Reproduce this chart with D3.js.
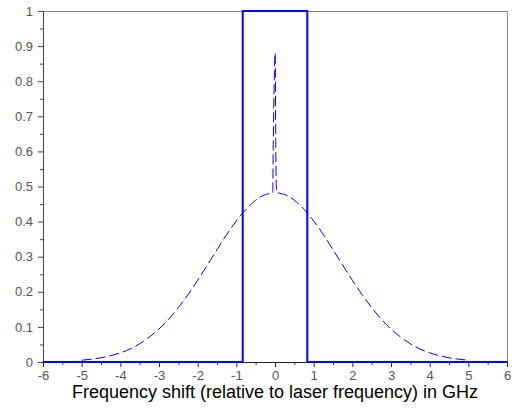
<!DOCTYPE html>
<html lang="en">
<head>
<meta charset="utf-8" />
<title>Frequency shift</title>
<script src="https://d3js.org/d3.v7.min.js"></script>
<style>
    body { margin: 0; background: #fff; }
    .tick text { font-family: "Liberation Sans", Arial, sans-serif; font-size: 13px; fill: #555; }
    .title { font-family: "Liberation Sans", Arial, sans-serif; font-size: 18px; fill: #000; }
</style>
</head>
<body>
<div id="chart"></div>
<script>
    // tick values
    var xTicks = [-6, -5, -4, -3, -2, -1, 0, 1, 2, 3, 4, 5, 6];
    var yTicks = [0, 0.1, 0.2, 0.3, 0.4, 0.5, 0.6, 0.7, 0.8, 0.9, 1];
    var xMinor = [-5.5, -4.5, -3.5, -2.5, -1.5, -0.5, 0.5, 1.5, 2.5, 3.5, 4.5, 5.5];
    var yMinor = [0.05, 0.15, 0.25, 0.35, 0.45, 0.55, 0.65, 0.75, 0.85, 0.95];

    // rectangular filter (solid)
    var rectX = [-6, -0.835, -0.835, 0.835, 0.835, 6];
    var rectY = [0, 0, 1, 1, 0, 0];

    // broadened spectrum with narrow central peak (dashed)
    var specX = [-5, -4.75, -4.5, -4.25, -4, -3.75, -3.5, -3.25, -3, -2.75, -2.5, -2.25, -2, -1.75,
        -1.5, -1.25, -1, -0.75, -0.5, -0.25, -0.06, -0.045, 0.005, 0.02, 0.04, 0.25, 0.5, 0.75,
        1, 1.25, 1.5, 1.75, 2, 2.25, 2.5, 2.75, 3, 3.25, 3.5, 3.75, 4, 4.25, 4.5, 4.75, 5];
    var specY = [0.005, 0.008, 0.012, 0.018, 0.026, 0.037, 0.052, 0.071, 0.094, 0.122, 0.155, 0.192, 0.233, 0.276,
        0.320, 0.363, 0.402, 0.435, 0.461, 0.477, 0.482, 0.62, 0.88, 0.62, 0.484, 0.477, 0.461, 0.435,
        0.402, 0.363, 0.320, 0.276, 0.233, 0.192, 0.155, 0.122, 0.094, 0.071, 0.052, 0.037, 0.026, 0.018, 0.012, 0.008, 0.005];

    (function(d3) {
        'use strict';

        var width = 520, height = 410;
        var mLeft = 43, mRight = 507, mTop = 11, mBottom = 362;

        var svg = d3.select('#chart').append('svg')
            .attr('width', width)
            .attr('height', height);

        var x = d3.scaleLinear().domain([-6, 6]).range([mLeft, mRight]);
        var y = d3.scaleLinear().domain([0, 1]).range([mBottom, mTop]);

        // frame (top/right)
        svg.append('path')
            .attr('d', 'M' + mLeft + ',' + (mTop + 0.5) + 'H' + (mRight + 0.5) + 'V' + mBottom)
            .attr('fill', 'none')
            .attr('stroke', '#888')
            .attr('stroke-width', 1);

        // minor ticks
        svg.append('g')
            .attr('transform', 'translate(0,' + mBottom + ')')
            .call(d3.axisBottom(x).tickValues(xMinor).tickSize(3).tickFormat(''))
            .call(function(g) { g.select('.domain').remove(); g.selectAll('line').attr('stroke', '#333'); });
        svg.append('g')
            .attr('transform', 'translate(' + mLeft + ',0)')
            .call(d3.axisLeft(y).tickValues(yMinor).tickSize(3).tickFormat(''))
            .call(function(g) { g.select('.domain').remove(); g.selectAll('line').attr('stroke', '#444'); });

        // major axes
        var xAxis = svg.append('g')
            .attr('transform', 'translate(0,' + mBottom + ')')
            .call(d3.axisBottom(x).tickValues(xTicks).tickSize(5).tickSizeOuter(0).tickPadding(4)
                .tickFormat(function(d) { return String(d); }));
        xAxis.select('.domain').attr('stroke', '#222');
        xAxis.selectAll('line').attr('stroke', '#222');

        var yAxis = svg.append('g')
            .attr('transform', 'translate(' + mLeft + ',0)')
            .call(d3.axisLeft(y).tickValues(yTicks).tickSize(5).tickSizeOuter(0).tickPadding(5)
                .tickFormat(function(d) { return String(d); }));
        yAxis.select('.domain').attr('stroke', '#444');
        yAxis.selectAll('line').attr('stroke', '#444');

        // dashed spectrum
        var spec = specX.map(function(d, i) { return [d, specY[i]]; });
        svg.append('path')
            .datum(spec)
            .attr('fill', 'none')
            .attr('stroke', '#0000ff')
            .attr('stroke-width', 1)
            .attr('stroke-dasharray', '10,4')
            .attr('d', d3.line()
                .x(function(d) { return x(d[0]); })
                .y(function(d) { return y(d[1]); })
                .curve(d3.curveMonotoneX));

        // rectangle filter
        var rect = rectX.map(function(d, i) { return [d, rectY[i]]; });
        svg.append('path')
            .datum(rect)
            .attr('fill', 'none')
            .attr('stroke', '#0000ff')
            .attr('stroke-width', 2)
            .attr('d', d3.line()
                .x(function(d) { return x(d[0]); })
                .y(function(d) { return y(d[1]); }));

        svg.append('text')
            .attr('class', 'title')
            .attr('x', (mLeft + mRight) / 2)
            .attr('y', 398)
            .attr('text-anchor', 'middle')
            .text('Frequency shift (relative to laser frequency) in GHz');
    })(window.d3);
</script>
</body>
</html>
